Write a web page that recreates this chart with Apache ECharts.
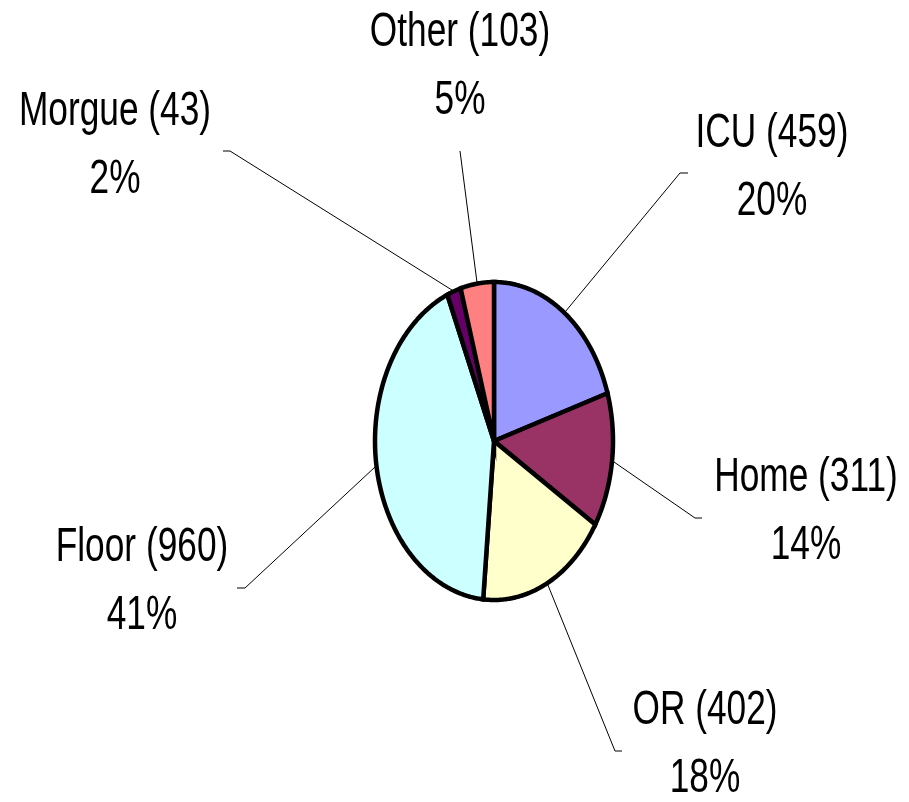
<!DOCTYPE html>
<html>
<head>
<meta charset="utf-8">
<title>Patient destination</title>
<script src="https://cdn.jsdelivr.net/npm/echarts/dist/echarts.min.js"></script>
<style>
  html, body { margin: 0; padding: 0; background: #fff; }
  #chart { width: 909px; height: 802px; }
</style>
</head>
<body>
<div id="chart"></div>
<script>
// slices, clockwise from 12 o'clock
var categories = ['ICU', 'Home', 'OR', 'Floor', 'Morgue', 'Other'];
var counts = [459, 311, 402, 960, 43, 103];
var pctLabels = ['20%', '14%', '18%', '41%', '2%', '5%'];

var colors = ['#9999ff', '#993366', '#ffffcc', '#ccffff', '#660066', '#ff8080'];

// layout: pie ellipse, label centres, leader line elbows (elbow, tick end)
var pie = { cx: 494, cy: 441, rx: 119, ry: 159 };
var labelAt = [[772, 167], [806, 511], [705, 744], [142, 581], [115, 145], [460, 66]];
var leaderEnd = [
    [[680, 173], [688, 173]],
    [[695, 518], [702, 518]],
    [[615, 751], [622, 751]],
    [[245, 588], [237, 588]],
    [[230, 151], [223, 151]],
    [[460, 151], [460, 151]]
];

var total = 0;
var startAt = [];
for (var i = 0; i < counts.length; i++) {
    startAt.push(total);
    total += counts[i];
}

function ellipsePoint(a) {
    return [pie.cx + pie.rx * Math.sin(a), pie.cy - pie.ry * Math.cos(a)];
}

function renderSlice(params, api) {
    var i = params.dataIndex;
    var a0 = startAt[i] / total * Math.PI * 2;
    var a1 = (startAt[i] + api.value(0)) / total * Math.PI * 2;
    var pts = [[pie.cx, pie.cy]];
    var steps = Math.max(2, Math.ceil((a1 - a0) / 0.01));
    for (var k = 0; k <= steps; k++) {
        pts.push(ellipsePoint(a0 + (a1 - a0) * k / steps));
    }
    var mid = ellipsePoint((a0 + a1) / 2);
    return {
        type: 'group',
        children: [
            {
                type: 'polyline',
                shape: { points: [mid, leaderEnd[i][0], leaderEnd[i][1]] },
                style: { stroke: '#000', lineWidth: 1, fill: null }
            },
            {
                type: 'polygon',
                shape: { points: pts },
                style: { fill: colors[i], stroke: '#000', lineWidth: 4.5 }
            },
            {
                type: 'text',
                x: labelAt[i][0],
                y: labelAt[i][1],
                scaleX: 0.72,
                style: {
                    text: categories[i] + ' (' + counts[i] + ')\n' + pctLabels[i],
                    fill: '#000',
                    fontSize: 49,
                    fontFamily: '"Liberation Sans", Arial, sans-serif',
                    align: 'center',
                    verticalAlign: 'middle',
                    lineHeight: 68
                }
            }
        ]
    };
}

var myChart = echarts.init(document.getElementById('chart'));
var option = {
    backgroundColor: '#fff',
    animation: false,
    series: [
        {
            type: 'custom',
            coordinateSystem: 'none',
            silent: true,
            renderItem: renderSlice,
            data: counts.map(function (v, i) {
                return { name: categories[i], value: [v] };
            })
        }
    ]
};
myChart.setOption(option);
</script>
</body>
</html>
